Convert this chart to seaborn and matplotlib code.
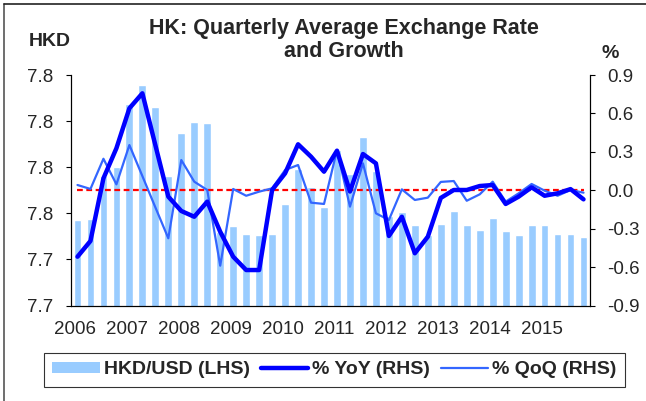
import numpy as np
import pandas as pd
import seaborn as sns
import matplotlib.pyplot as plt
from matplotlib.ticker import FormatStrFormatter
from matplotlib.patches import Patch
from matplotlib.lines import Line2D

# quarterly data 2006Q1 - 2015Q4
years = [str(y) for y in range(2006, 2016)]
quarters = [f"{y}Q{q}" for y in years for q in range(1, 5)]

hkd_usd = [7.757, 7.7574, 7.7762, 7.780, 7.8073, 7.8157, 7.806, 7.7763,
           7.7947, 7.7996, 7.7992, 7.752, 7.7545, 7.751, 7.7504, 7.7512,
           7.7639, 7.7794, 7.7714, 7.7627, 7.7875, 7.777, 7.793, 7.7783,
           7.759, 7.7607, 7.7549, 7.7505, 7.7554, 7.7609, 7.7549, 7.7526,
           7.7581, 7.7523, 7.7506, 7.7549, 7.7549, 7.7512, 7.7512, 7.7497]

yoy = [-0.519, -0.396, 0.093, 0.328, 0.640, 0.757, 0.353, -0.050,
       -0.162, -0.207, -0.089, -0.324, -0.519, -0.623, -0.623, 0.002,
       0.132, 0.359, 0.262, 0.145, 0.309, -0.01, 0.283, 0.210,
       -0.357, -0.207, -0.492, -0.363, -0.060, 0.002, 0.002, 0.033,
       0.041, -0.107, -0.050, 0.023, -0.043, -0.024, 0.009, -0.071]

qoq = [0.041, 0.010, 0.246, 0.046, 0.353, 0.111, -0.133, -0.375,
       0.236, 0.067, 0.002, -0.589, 0.010, -0.043, -0.011, 0.015,
       0.158, 0.197, -0.097, -0.107, 0.314, -0.128, 0.21, -0.180,
       -0.232, 0.007, -0.076, -0.058, 0.065, 0.072, -0.082, -0.032,
       0.067, -0.089, -0.024, 0.049, -0.003, -0.043, 0.002, -0.019]

left_ticks = [7.72, 7.74, 7.76, 7.78, 7.80, 7.82]
right_ticks = [-0.9, -0.6, -0.3, 0.0, 0.3, 0.6, 0.9]

df = pd.DataFrame({"quarter": quarters, "hkd": hkd_usd, "yoy": yoy, "qoq": qoq})
df["idx"] = np.arange(len(df))

sns.set_style("white")
plt.rcParams["font.family"] = ["Liberation Sans", "DejaVu Sans"]

bar_col = "#99CCFF"
yoy_col = "#0000FF"
qoq_col = "#3366FF"

fig = plt.figure(figsize=(6.46, 4.01), dpi=100)
ax = fig.add_axes([71 / 646, 1 - 305.5 / 401, 519 / 646, 230.5 / 401])

sns.barplot(data=df, x="quarter", y="hkd", color=bar_col, saturation=1,
            width=0.6, ax=ax)
ax.set_ylim(left_ticks[0], left_ticks[-1])
ax.set_yticks(left_ticks)
ax.yaxis.set_major_formatter(FormatStrFormatter("%.1f"))

ax2 = ax.twinx()
ax2.hlines(0, df["idx"].iloc[0], df["idx"].iloc[-1], colors="#FF0000",
           linestyles=(0, (2.6, 1.6)), lw=1.6, zorder=1)
sns.lineplot(data=df, x="idx", y="qoq", color=qoq_col, lw=1.6, ax=ax2, zorder=2)
sns.lineplot(data=df, x="idx", y="yoy", color=yoy_col, lw=3.2, ax=ax2, zorder=3)
ax2.set_ylim(right_ticks[0], right_ticks[-1])
ax2.set_yticks(right_ticks)
ax2.yaxis.set_major_formatter(FormatStrFormatter("%.1f"))

# x axis: tick marks at year boundaries, year labels near each year's start
ax.set_xlim(-0.5, len(quarters) - 0.5)
ax.set_xticks(np.arange(-0.5, len(quarters), 4))
ax.set_xticklabels([])
ax.set_xticks(np.arange(len(years)) * 4 - 0.2, minor=True)
ax.set_xticklabels(years, minor=True)
ax.tick_params(axis="x", which="minor", length=0, pad=11.5, labelsize=13.5)
ax.tick_params(axis="x", which="major", length=3.6, width=0.8, direction="out", color="black")
ax.tick_params(axis="y", length=3.6, width=0.8, direction="out", pad=9, labelsize=13.5, color="black")
ax2.tick_params(axis="y", length=3.6, width=0.8, direction="out", pad=8.5, labelsize=13.5, color="black")
ax2.set_xlim(-0.5, len(quarters) - 0.5)

for a in (ax, ax2):
    a.set_xlabel("")
    a.set_ylabel("")
    a.spines["top"].set_visible(False)
    for s in ("left", "right", "bottom"):
        a.spines[s].set_color("black")
        a.spines[s].set_linewidth(0.8)
    a.grid(False)

fig.text(344 / 646, 1 - 40 / 401, "HK: Quarterly Average Exchange Rate\nand Growth",
         ha="center", va="center", fontsize=15.5, fontweight="bold", linespacing=1.15)
fig.text(50 / 646, 1 - 42 / 401, "HKD", ha="center", va="center", fontsize=14, fontweight="bold")
fig.text(610 / 646, 1 - 53 / 401, "%", ha="center", va="center", fontsize=14, fontweight="bold")

handles = [Patch(facecolor=bar_col, edgecolor="none"),
           Line2D([], [], color=yoy_col, lw=3.2),
           Line2D([], [], color=qoq_col, lw=1.6)]
labels = ["HKD/USD (LHS)", "% YoY (RHS)", "% QoQ (RHS)"]
leg = fig.legend(handles, labels, loc="center", bbox_to_anchor=(334.5 / 646, 1 - 370 / 401),
                 ncol=3, frameon=True, fancybox=False, edgecolor="black",
                 prop={"weight": "bold", "size": 14}, handlelength=2.45, handleheight=0.5,
                 handletextpad=0.2, columnspacing=0.55, borderpad=0.45)
leg.get_frame().set_linewidth(0.8)

# outer frame (left and top edges visible in the original)
fig.add_artist(Line2D([3.5 / 646, 3.5 / 646], [0, 1 - 4 / 401], color="#555555", lw=1.2))
fig.add_artist(Line2D([3.5 / 646, 1], [1 - 4 / 401, 1 - 4 / 401], color="#222222", lw=1.2))

fig.savefig("out.png", dpi=100)
